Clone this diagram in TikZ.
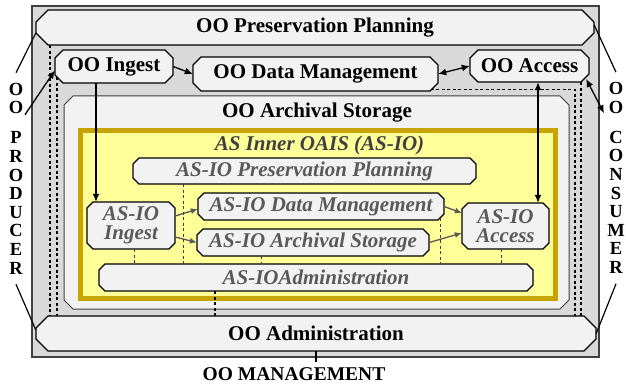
\documentclass[tikz,border=0pt]{standalone}
\usepackage{fontspec}
\setmainfont{Liberation Serif}
\usetikzlibrary{arrows.meta,calc}
\definecolor{panelgray}{HTML}{D9D9D9}
\definecolor{boxfill}{HTML}{F2F2F2}
\definecolor{frameline}{HTML}{404040}
\definecolor{innertext}{HTML}{595959}
\definecolor{oaisfill}{HTML}{FFFF99}
\definecolor{oaisedge}{HTML}{C8A400}
% \chambox{path style}{node style}{name}{cx}{cy}{width}{height}{chamfer}{text}
% draws an octagonal (chamfered) box and places a named rectangular node over it
\newcommand\chambox[9]{%
  \pgfmathsetmacro\bxl{#4-#6/2}\pgfmathsetmacro\bxr{#4+#6/2}%
  \pgfmathsetmacro\byt{#5-#7/2}\pgfmathsetmacro\byb{#5+#7/2}%
  \path[#1] (\bxl+#8,\byt) -- (\bxr-#8,\byt) -- (\bxr,\byt+#8) -- (\bxr,\byb-#8)
    -- (\bxr-#8,\byb) -- (\bxl+#8,\byb) -- (\bxl,\byb-#8) -- (\bxl,\byt+#8) -- cycle;
  \node[inner sep=0pt, minimum width=#6pt, minimum height=#7pt, #2] (#3) at (#4,#5) {#9};}
\begin{document}
\begin{tikzpicture}[x=1pt,y=-1pt,
  font=\fontsize{21}{23}\selectfont\bfseries,
  boxpath/.style={draw=black, line width=1.1pt, fill=boxfill},
  oopath/.style={draw=frameline, line width=1pt, fill=boxfill},
  iotext/.style={text=innertext, align=center,
    font=\fontsize{21}{19}\selectfont\bfseries\itshape},
  ooarrow/.style={-{Latex[length=8pt,width=7pt]}, line width=1.3pt},
  ooboth/.style={{Latex[length=8pt,width=7pt]}-{Latex[length=8pt,width=7pt]}, line width=1.3pt},
  ioarrow/.style={-{Latex[length=7pt,width=6pt]}, line width=1.3pt, draw=innertext, fill=innertext},
  oolink/.style={dash pattern=on 3pt off 2.5pt, line width=1.2pt},
  iolink/.style={dash pattern=on 3pt off 2.5pt, line width=1pt, draw=frameline},
  stack/.style={align=center, font=\fontsize{18.5}{18.6}\selectfont\bfseries, inner xsep=0pt, inner ysep=10pt},
  plain/.style={line width=1.2pt}]
\useasboundingbox (0,0) rectangle (626,385);

% outer OAIS panel
\node[fill=panelgray, draw=frameline, line width=1.5pt, minimum width=567pt, minimum height=351pt, inner sep=0pt] (frame) at (315.5,181.5) {};

% outer OAIS functional entities
\chambox{boxpath}{}{pp}{315}{27.5}{558}{35}{12}{OO Preservation Planning}
\chambox{boxpath}{}{adm}{316}{333.5}{560}{35}{12}{OO Administration}
\chambox{boxpath}{}{ing}{114}{66.5}{118}{33}{8}{OO Ingest}
\chambox{boxpath}{}{dm}{315.5}{74}{245}{34}{8}{OO Data Management}
\chambox{boxpath}{}{acc}{529.5}{66}{119}{32}{8}{OO Access}
\chambox{oopath}{}{ast}{316.5}{202.5}{505}{213}{9}{}
\node (asttitle) at (317,113) {OO Archival Storage};

% inner OAIS inside archival storage
\node[draw=oaisedge, line width=5pt, fill=oaisfill, minimum width=475pt, minimum height=168pt, inner sep=0pt] (oais) at (318,214.5) {};
\node[text=frameline, font=\fontsize{21}{23}\selectfont\bfseries\itshape] (oaistitle) at (319.5,145) {AS Inner OAIS (AS-IO)};

\chambox{boxpath}{iotext}{ipp}{304.5}{171}{343}{26}{6}{AS-IO Preservation Planning}
\chambox{boxpath}{iotext}{iing}{131}{225.5}{88}{47}{6}{AS-IO\\Ingest}
\chambox{boxpath}{iotext}{idm}{321}{206.5}{246}{27}{6}{AS-IO Data Management}
\chambox{boxpath}{iotext}{ias}{313}{242.5}{232}{27}{6}{AS-IO Archival Storage}
\chambox{boxpath}{iotext}{iacc}{505.5}{226}{87}{46}{6}{AS-IO\\Access}
\chambox{boxpath}{iotext}{iad}{316}{277.5}{434}{27}{6}{AS-IOAdministration}

% outer flows
\draw[ooarrow] (ing.east) -- (dm.west);
\draw[ooboth] (dm.east) -- (acc.west);

% administration links of the outer entities
\draw[oolink] ([xshift=-265pt]pp.south) -- ([xshift=-265pt]pp.south |- adm.north);
\draw[oolink] ([xshift=-57pt,yshift=6pt]ing.south) -- ([xshift=-57pt]ing.south |- adm.north);
\draw[oolink] ([xshift=115pt,yshift=1.5pt]dm.south) -| ([xshift=259pt]adm.north);
\draw[oolink] ([xshift=51.5pt]acc.south) -- ([xshift=51.5pt]acc.south |- adm.north);
\draw[oolink] ([xshift=-101pt]iad.south) -- ([xshift=-101pt]iad.south |- adm.north);

% inner flows
\draw[ioarrow] ([yshift=9.5pt]iing.east) -- ([yshift=-2.5pt]idm.west);
\draw[ioarrow] ([yshift=-11.5pt]iing.east) -- (ias.west);
\draw[ioarrow] (idm.east) -- ([yshift=13pt]iacc.west);
\draw[ioarrow] (ias.east) -- ([yshift=-7pt]iacc.west);

% inner administration links
\draw[iolink] ([xshift=-121.5pt]ipp.south) -- ([xshift=-121.5pt]ipp.south |- iad.north);
\draw[iolink] ([xshift=3pt]iing.south) -- ([xshift=3pt]iing.south |- iad.north);
\draw[iolink] ([xshift=-52pt]ias.south) -- ([xshift=-52pt]ias.south |- iad.north);
\draw[iolink] ([xshift=119pt,yshift=2pt]idm.south) -- ([xshift=119pt]idm.south |- iad.north);
\draw[iolink] ([xshift=-4.5pt]iacc.south) -- ([xshift=-4.5pt]iacc.south |- iad.north);

% ingest and access reach into the inner OAIS
\draw[ooarrow] ([xshift=-18pt]ing.south) -- ([xshift=-18pt]ing.south |- iing.north);
\draw[ooboth] ([xshift=8.5pt]acc.south) -- ([xshift=8.5pt]acc.south |- iacc.north);

% producer, consumer and management
\node[stack] (prod) at (16,178.5) {O\\O\\[11.5pt]P\\R\\O\\D\\U\\C\\E\\R};
\node[stack] (cons) at (616,178) {O\\O\\[11.5pt]C\\O\\N\\S\\U\\M\\E\\R};
\node[font=\fontsize{19.5}{21}\selectfont\bfseries, inner sep=5pt] (mgmt) at (294,374) {OO MANAGEMENT};

\draw[plain] (prod.north) -- ([yshift=-5.5pt]pp.west);
\draw[ooarrow] ($(prod.north)+(9,42)$) -- ([yshift=-4pt]ing.west);
\draw[plain] (prod.south) -- ([yshift=3.5pt]adm.west);
\draw[plain] (cons.north) -- ([yshift=2.5pt]pp.east);
\draw[ooboth] ($(acc.east)+(-3,13)$) -- ($(cons.north)+(-12,41)$);
\draw[plain] (cons.south) -- (adm.east);
\draw[plain] (adm.south) -- (adm.south |- mgmt.north);
\end{tikzpicture}
\end{document}
